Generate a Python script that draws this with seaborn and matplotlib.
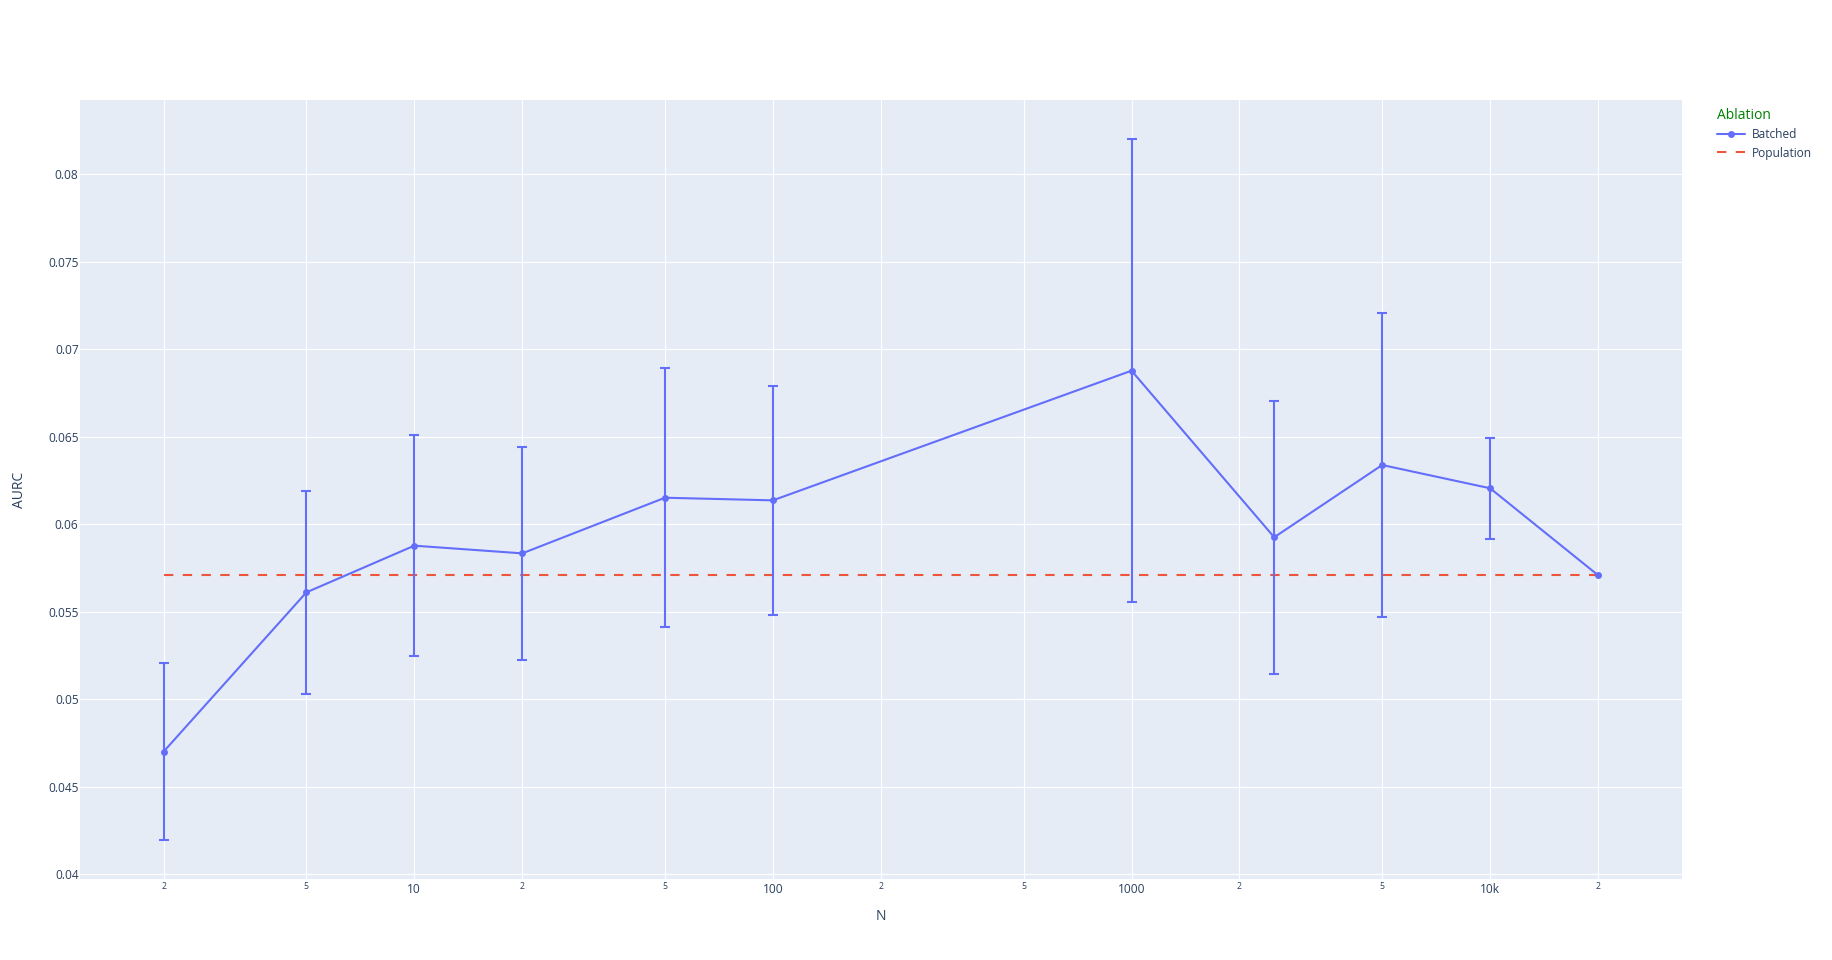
import numpy as np
import pandas as pd
import matplotlib
matplotlib.use("Agg")
import matplotlib.pyplot as plt
import seaborn as sns

# values
n_values = [2, 5, 10, 20, 50, 100, 1000, 2500, 5000, 10000, 20000]
batched_aurc = [0.04701, 0.05611, 0.05878, 0.05834, 0.06152, 0.06137,
                0.06878, 0.05926, 0.06339, 0.06206, 0.05709]
batched_err = [0.00507, 0.00580, 0.00633, 0.00607, 0.00739, 0.00654,
               0.01323, 0.00780, 0.00866, 0.00288, 0.0]
population_aurc = [0.05709] * len(n_values)

major_ticks = [10, 100, 1000, 10000]
major_labels = ["10", "100", "1000", "10k"]
minor_ticks = [2, 5, 20, 50, 200, 500, 2000, 5000, 20000]
minor_labels = ["2", "5", "2", "5", "2", "5", "2", "5", "2"]
y_ticks = [0.04, 0.045, 0.05, 0.055, 0.06, 0.065, 0.07, 0.075, 0.08]

batched = pd.DataFrame({"N": n_values, "AURC": batched_aurc, "err": batched_err})
population = pd.DataFrame({"N": n_values, "AURC": population_aurc})

sns.set_theme(style="darkgrid", rc={"axes.facecolor": "#E5ECF6",
                                    "grid.color": "white",
                                    "grid.linewidth": 0.8})
plt.rcParams["font.family"] = ["Open Sans", "DejaVu Sans"]
text_col = "#2a3f5f"
blue = "#636EFA"
red = "#EF553B"

W, H = 1832, 960
fig = plt.figure(figsize=(W / 100, H / 100), dpi=100)
ax = fig.add_axes([80 / W, (H - 879) / H, (1682 - 80) / W, (879 - 100) / H])

sns.lineplot(data=batched, x="N", y="AURC", color=blue, marker="o",
             markersize=5, markeredgewidth=0, linewidth=1.5,
             label="Batched", ax=ax, zorder=4)
# error bars only where there is a spread (last point has none)
eb = batched[batched["err"] > 0]
ax.errorbar(eb["N"], eb["AURC"], yerr=eb["err"], fmt="none",
            ecolor=blue, elinewidth=1.5, capsize=3.5, capthick=1.5, zorder=3)
sns.lineplot(data=population, x="N", y="AURC", color=red, linewidth=1.5,
             dashes=False, label="Population", ax=ax, zorder=2)
ax.get_lines()[-1].set_dashes((4.5, 4.5))

ax.set_xscale("log")
ax.set_xlim(1.169, 34280)
ax.set_ylim(0.03973, 0.08425)

ax.set_xticks(major_ticks)
ax.set_xticklabels(major_labels, fontsize=8.6, color=text_col)
ax.set_xticks(minor_ticks, minor=True)
ax.set_xticklabels(minor_labels, minor=True, fontsize=6.2, color=text_col)
ax.set_yticks(y_ticks)
ax.set_yticklabels(["%g" % v for v in y_ticks], fontsize=8.6, color=text_col)
ax.tick_params(which="both", length=0)
ax.tick_params(axis="x", which="major", pad=3)
ax.tick_params(axis="x", which="minor", pad=2)
ax.tick_params(axis="y", pad=1)
ax.grid(which="both", color="white", linewidth=0.8)
for s in ax.spines.values():
    s.set_visible(False)

ax.set_xlabel("N", fontsize=10, color=text_col, labelpad=9)
ax.set_ylabel("AURC", fontsize=10, color=text_col)
ax.yaxis.set_label_coords((27 - 80) / (1682 - 80), 0.5)

handles, labels = ax.get_legend_handles_labels()
leg = ax.legend(handles, labels, title="Ablation", loc="upper left",
                bbox_to_anchor=(1712 / W, 1 - 103 / H),
                bbox_transform=fig.transFigure, frameon=False,
                fontsize=8.6, title_fontsize=10, alignment="left",
                handlelength=2.4, handletextpad=0.5, labelspacing=0.45,
                borderaxespad=0)
leg.get_title().set_color("green")
for t in leg.get_texts():
    t.set_color(text_col)

fig.savefig("out.png", dpi=100)
